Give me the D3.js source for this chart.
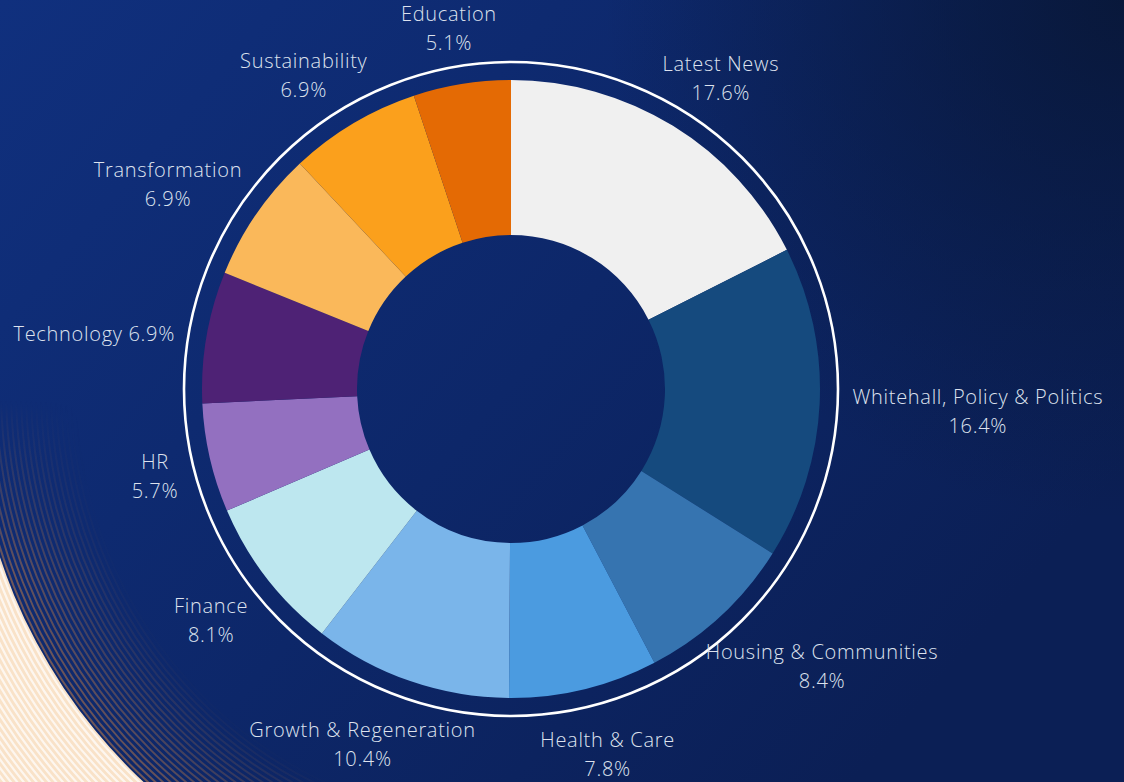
<!DOCTYPE html>
<html>
<head>
<meta charset="utf-8">
<script src="https://cdn.jsdelivr.net/npm/d3@7"></script>
<style>
  html, body { margin: 0; padding: 0; background: #0c2462; }
  svg { display: block; }
  text { font-family: "Open Sans", "Lato", sans-serif; font-weight: 300; }
</style>
</head>
<body>
<svg id="chart" width="1124" height="782"></svg>
<script>
// ---- data ----
const categories = ["Latest News", "Whitehall, Policy & Politics", "Housing & Communities", "Health & Care",
  "Growth & Regeneration", "Finance", "HR", "Technology", "Transformation", "Sustainability", "Education"];
const values = [17.6, 16.4, 8.4, 7.8, 10.4, 8.1, 5.7, 6.9, 6.9, 6.9, 5.1];
const colors = ["#f0f0f0", "#154a7e", "#3674b0", "#4b9be0", "#7ab5ea", "#bde7ef", "#9370c0", "#4e2275",
  "#fab85a", "#fba01c", "#e46a04"];
const singleLineLabels = ["Technology"];

// ---- layout ----
const W = 1124, H = 782;
const cx = 511, cy = 389;
const innerR = 154, outerR = 309, ringR = 327;
const labelR = 342, labelShiftY = 5;

const svg = d3.select("#chart");
const defs = svg.append("defs");

// background gradients
const bg = defs.append("linearGradient").attr("id", "bg").attr("x1", "0").attr("y1", "0").attr("x2", "1").attr("y2", "0.6");
bg.append("stop").attr("offset", "0").attr("stop-color", "#10307e");
bg.append("stop").attr("offset", "0.55").attr("stop-color", "#0d2769");
bg.append("stop").attr("offset", "1").attr("stop-color", "#0b1f55");
const corner = defs.append("radialGradient").attr("id", "corner").attr("gradientUnits", "userSpaceOnUse")
  .attr("cx", W).attr("cy", 0).attr("r", 520);
corner.append("stop").attr("offset", "0").attr("stop-color", "#081634").attr("stop-opacity", 0.85);
corner.append("stop").attr("offset", "1").attr("stop-color", "#081634").attr("stop-opacity", 0);

svg.append("rect").attr("width", W).attr("height", H).attr("fill", "url(#bg)");
svg.append("rect").attr("width", W).attr("height", H).attr("fill", "url(#corner)");

// decorative concentric stripes in bottom-left
const fadeR = defs.append("radialGradient").attr("id", "fadeR").attr("gradientUnits", "userSpaceOnUse")
  .attr("cx", cx).attr("cy", cy).attr("r", 540);
fadeR.append("stop").attr("offset", 0.8).attr("stop-color", "#fff").attr("stop-opacity", 0);
fadeR.append("stop").attr("offset", 1).attr("stop-color", "#fff").attr("stop-opacity", 1);
const fadeY = defs.append("linearGradient").attr("id", "fadeY").attr("gradientUnits", "userSpaceOnUse")
  .attr("x1", 0).attr("y1", 400).attr("x2", 0).attr("y2", 570);
fadeY.append("stop").attr("offset", 0).attr("stop-color", "#fff").attr("stop-opacity", 0);
fadeY.append("stop").attr("offset", 1).attr("stop-color", "#fff").attr("stop-opacity", 1);
defs.append("mask").attr("id", "maskR").append("rect").attr("width", W).attr("height", H).attr("fill", "url(#fadeR)");
defs.append("mask").attr("id", "maskY").append("rect").attr("width", W).attr("height", H).attr("fill", "url(#fadeY)");
defs.append("clipPath").attr("id", "clipBL").append("rect").attr("x", 0).attr("y", 380).attr("width", 340).attr("height", 402);

const brightG = defs.append("radialGradient").attr("id", "bright").attr("gradientUnits", "userSpaceOnUse")
  .attr("cx", cx).attr("cy", cy).attr("r", 660);
brightG.append("stop").attr("offset", 0.815).attr("stop-color", "#e08a45");
brightG.append("stop").attr("offset", 0.9).attr("stop-color", "#eeae74");
brightG.append("stop").attr("offset", 1).attr("stop-color", "#f9e2c8");

const deco = svg.append("g").attr("clip-path", "url(#clipBL)").append("g").attr("mask", "url(#maskY)").append("g");
// dark stripes band
const darkBand = deco.append("g").attr("mask", "url(#maskR)");
for (let r = 430; r < 538; r += 5) {
  darkBand.append("circle").attr("cx", cx).attr("cy", cy).attr("r", r)
    .attr("fill", "none").attr("stroke", "#b97848").attr("stroke-opacity", 0.6).attr("stroke-width", 2);
}
// bright band
const brightArc = d3.arc().innerRadius(538).outerRadius(900).startAngle(0).endAngle(2 * Math.PI);
deco.append("path").attr("transform", `translate(${cx},${cy})`).attr("d", brightArc()).attr("fill", "url(#bright)");
for (let r = 541; r < 900; r += 5) {
  deco.append("circle").attr("cx", cx).attr("cy", cy).attr("r", r)
    .attr("fill", "none").attr("stroke", "#ffffff").attr("stroke-opacity", 0.7).attr("stroke-width", 2.2);
}

// ---- donut ----
const pie = d3.pie().sort(null).value(d => d.value);
const data = categories.map((c, i) => ({ name: c, value: values[i], color: colors[i] }));
const arcs = pie(data);
const arc = d3.arc().innerRadius(innerR).outerRadius(outerR);

const g = svg.append("g").attr("transform", `translate(${cx},${cy})`);
g.append("circle").attr("r", ringR).attr("fill", "none").attr("stroke", "#ffffff").attr("stroke-width", 2.6);
g.selectAll("path.slice").data(arcs).join("path")
  .attr("class", "slice")
  .attr("d", arc)
  .attr("fill", d => d.data.color);

// ---- labels ----
const fs = 20, lh = 29, cap = 14;
const lab = g.selectAll("g.label").data(arcs).join("g").attr("class", "label");
lab.each(function (d) {
  const el = d3.select(this);
  const t = el.append("text").attr("fill", "#dde2ee").attr("font-size", fs)
    .attr("letter-spacing", 0.7).attr("text-anchor", "middle");
  const pct = d.data.value.toFixed(1) + "%";
  let lines;
  if (singleLineLabels.includes(d.data.name)) lines = [d.data.name + " " + pct];
  else lines = [d.data.name, pct];
  lines.forEach((s, i) => t.append("tspan").attr("x", 0).attr("y", i * lh).text(s));
  const bb = t.node().getBBox();
  const w = bb.width;
  const h = (lines.length - 1) * lh + cap + 14;
  const visCy = ((lines.length - 1) * lh) / 2 - cap / 2;
  const a = (d.startAngle + d.endAngle) / 2;
  const vx = Math.sin(a), vy = -Math.cos(a);
  const ax = labelR * vx, ay = labelR * vy;
  const ccx = ax + vx * w / 2, ccy = ay + vy * h / 2 + labelShiftY;
  el.attr("transform", `translate(${ccx},${ccy - visCy})`);
});
</script>
</body>
</html>
